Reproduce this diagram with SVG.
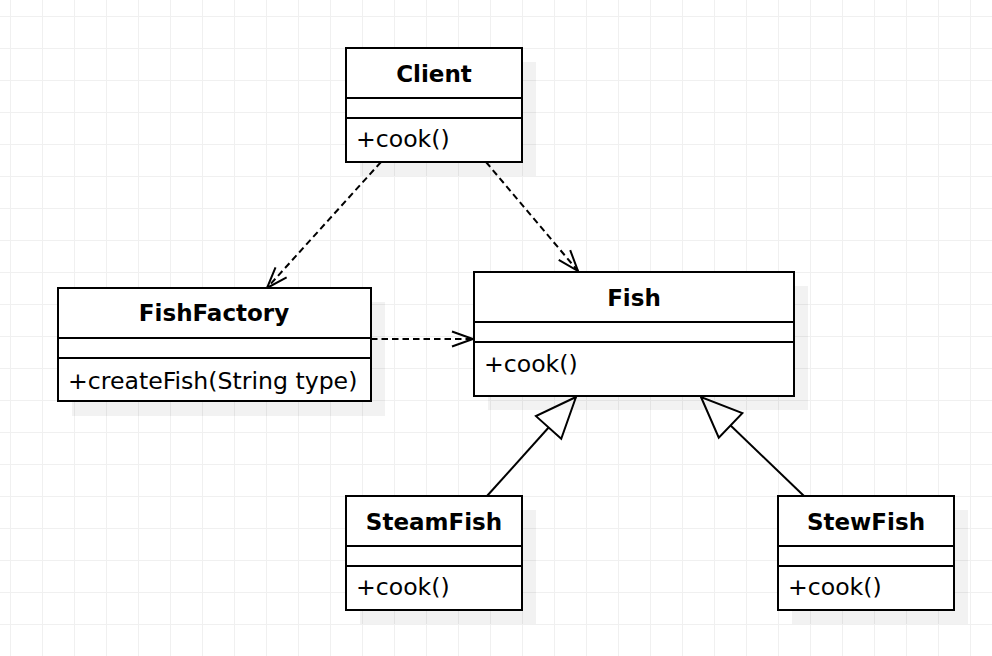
<svg xmlns="http://www.w3.org/2000/svg" width="992" height="656" viewBox="0 0 992 656">
<style>
.box{fill:#fff;stroke:#000;stroke-width:2}
.shadow{fill:#000;fill-opacity:0.05;stroke:none}
.div{stroke:#000;stroke-width:2}
.title{font-family:"DejaVu Sans",sans-serif;font-weight:bold;font-size:23px;fill:#000;text-anchor:middle}
.op{font-family:"DejaVu Sans",sans-serif;font-size:23.6px;fill:#000}
.dep{fill:none;stroke:#000;stroke-width:2;stroke-dasharray:6.5 4}
.gen{fill:none;stroke:#000;stroke-width:2}
</style>
<defs>
<pattern id="grid" patternUnits="userSpaceOnUse" x="10" y="16" width="32" height="32">
<path d="M0,0.5 H32 M0.5,0 V32" fill="none" stroke="#f0f0f0" stroke-width="1"/>
</pattern>
<marker id="open" markerUnits="userSpaceOnUse" viewBox="-30 -15 32 30" refX="0" refY="0" markerWidth="32" markerHeight="30" orient="auto" overflow="visible">
<path d="M-21,-7.5 L0,0 L-21,7.5" fill="none" stroke="#000" stroke-width="2" stroke-dasharray="none"/>
</marker>
<marker id="tri" markerUnits="userSpaceOnUse" viewBox="-45 -20 48 40" refX="0" refY="0" markerWidth="48" markerHeight="40" orient="auto" overflow="visible">
<path d="M0,0 L-41,-17 L-41,17 Z" fill="#fff" stroke="#000" stroke-width="2" stroke-linejoin="miter"/>
</marker>
</defs>
<rect width="992" height="656" fill="#fff"/>
<rect width="992" height="656" fill="url(#grid)"/>

<g id="connectors">
<path class="dep" d="M381,162 L267,288" marker-end="url(#open)"/>
<path class="dep" d="M486,162 L578,271" marker-end="url(#open)"/>
<path class="dep" d="M371,339 L473,339" marker-end="url(#open)"/>
<path class="gen" d="M487,496 L576,397" marker-end="url(#tri)"/>
<path class="gen" d="M804,496 L701,397" marker-end="url(#tri)"/>
</g>

<g id="Client">
<rect class="shadow" x="360" y="62" width="176" height="114"/>
<rect class="box" x="346" y="48" width="176" height="114"/>
<line class="div" x1="346" y1="98" x2="522" y2="98"/>
<line class="div" x1="346" y1="118" x2="522" y2="118"/>
<text class="title" x="434" y="82">Client</text>
<text class="op" x="356" y="147">+cook()</text>
</g>

<g id="FishFactory">
<rect class="shadow" x="72" y="302" width="313" height="114"/>
<rect class="box" x="58" y="288" width="313" height="113"/>
<line class="div" x1="58" y1="338" x2="371" y2="338"/>
<line class="div" x1="58" y1="358" x2="371" y2="358"/>
<text class="title" x="214" y="321">FishFactory</text>
<text class="op" x="68" y="389">+createFish(String type)</text>
</g>

<g id="Fish">
<rect class="shadow" x="488" y="286" width="320" height="124"/>
<rect class="box" x="474" y="272" width="320" height="124"/>
<line class="div" x1="474" y1="322" x2="794" y2="322"/>
<line class="div" x1="474" y1="342" x2="794" y2="342"/>
<text class="title" x="634" y="306">Fish</text>
<text class="op" x="484" y="372">+cook()</text>
</g>

<g id="SteamFish">
<rect class="shadow" x="360" y="510" width="176" height="114"/>
<rect class="box" x="346" y="496" width="176" height="114"/>
<line class="div" x1="346" y1="546" x2="522" y2="546"/>
<line class="div" x1="346" y1="566" x2="522" y2="566"/>
<text class="title" x="434" y="530">SteamFish</text>
<text class="op" x="356" y="595">+cook()</text>
</g>

<g id="StewFish">
<rect class="shadow" x="792" y="510" width="176" height="114"/>
<rect class="box" x="778" y="496" width="176" height="114"/>
<line class="div" x1="778" y1="546" x2="954" y2="546"/>
<line class="div" x1="778" y1="566" x2="954" y2="566"/>
<text class="title" x="866" y="530">StewFish</text>
<text class="op" x="788" y="595">+cook()</text>
</g>
</svg>
